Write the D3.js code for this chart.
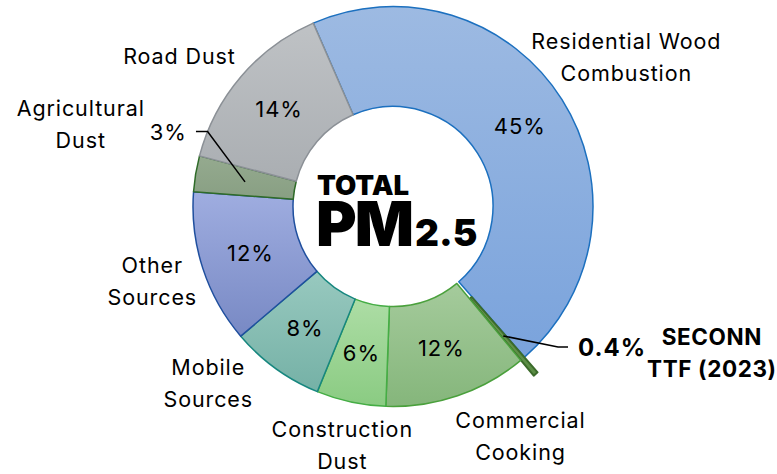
<!DOCTYPE html>
<html>
<head>
<meta charset="utf-8">
<script src="https://cdn.jsdelivr.net/npm/d3@7"></script>
<style>
  body { margin: 0; background: #fff; }
  text { font-family: Inter, "Noto Sans", sans-serif; fill: #000; }
</style>
</head>
<body>
<div id="my_dataviz"></div>
<script>
// ---------------- data ----------------
const categories = ["Residential Wood Combustion", "SECONN TTF (2023)", "Commercial Cooking",
                    "Construction Dust", "Mobile Sources", "Other Sources", "Agricultural Dust", "Road Dust"];
const shares = [45.1, 0.4, 11.6, 5.6, 7.6, 12.4, 2.9, 14.4];   // percent of total PM2.5
const nameLines = [["Residential Wood", "Combustion"], ["SECONN", "TTF (2023)"], ["Commercial", "Cooking"],
                   ["Construction", "Dust"], ["Mobile", "Sources"], ["Other", "Sources"],
                   ["Agricultural", "Dust"], ["Road Dust"]];
const centerTitle = ["TOTAL", "PM", "2.5"];

// ---------------- styles ----------------
const fillTop    = ["#9dbae2", "#6b9c52", "#a5cb9c", "#addda5", "#98c9bf", "#9fade0", "#95aa8f", "#bfc2c5"];
const fillBottom = ["#7aa3dc", "#5a8c44", "#85b67b", "#8acb82", "#75b1a6", "#7889c4", "#889f83", "#aaaeb2"];
const strokes    = ["#1c70bf", "#3c6b2b", "#4aa03c", "#45ad45", "#17877f", "#1f4f9e", "#2e6b28", "#8b9096"];

// ---------------- layout ----------------
const width = 777, height = 474;
const cx = 393, cy = 206.5;
const outerR = 200, innerR = 100;
const startDeg = -23.5;
const explodeIdx = 1, explodeBy = 20;
// category names: [angle (deg, clockwise from 12 o'clock), distance from centre]
const nameSpots = [[57.4, 277], [114.7, 351], [151, 263], [192, 244],
                   [226.2, 256], [252.8, 252], [284.8, 323], [305.1, 261]];
const nameSize = 21.5, pctSize = 22, lineH = 32;

const rad = deg => deg * Math.PI / 180;
const polar = (a, r) => [Math.sin(a) * r, -Math.cos(a) * r];

const svg = d3.select("#my_dataviz").append("svg")
    .attr("width", width).attr("height", height);

const defs = svg.append("defs");
shares.forEach((v, i) => {
    const g = defs.append("linearGradient").attr("id", "grad" + i)
        .attr("x1", 0).attr("y1", 0).attr("x2", 0).attr("y2", 1);
    g.append("stop").attr("offset", "0%").attr("stop-color", fillTop[i]);
    g.append("stop").attr("offset", "100%").attr("stop-color", fillBottom[i]);
});

const pie = d3.pie().sort(null).value(d => d)
    .startAngle(rad(startDeg)).endAngle(rad(startDeg) + 2 * Math.PI);
const arcs = pie(shares);
const arc = d3.arc().innerRadius(innerR).outerRadius(outerR);

const chart = svg.append("g").attr("transform", `translate(${cx},${cy})`);

const midAngle = d => (d.startAngle + d.endAngle) / 2;
const shift = (d, i) => i === explodeIdx ? polar(midAngle(d), explodeBy) : [0, 0];

// slices
chart.selectAll("path.slice")
    .data(arcs)
    .join("path")
    .attr("class", "slice")
    .attr("d", arc)
    .attr("transform", (d, i) => `translate(${shift(d, i)})`)
    .attr("fill", (d, i) => `url(#grad${i})`)
    .attr("stroke", (d, i) => strokes[i])
    .attr("stroke-width", (d, i) => i === explodeIdx ? 2 : 1.5)
    .attr("stroke-linejoin", "round");

const fmtPct = v => v < 1 ? d3.format(".1f")(v) + "%" : d3.format(".0f")(v) + "%";

// percent labels inside the ring
const inside = arcs.filter((d, i) => i !== explodeIdx && i !== 6);
chart.selectAll("text.pct")
    .data(inside)
    .join("text")
    .attr("class", "pct")
    .attr("transform", d => `translate(${arc.centroid(d)})`)
    .attr("text-anchor", "middle")
    .attr("dy", pctSize * 0.36)
    .style("font-size", pctSize + "px")
    .style("letter-spacing", "1px")
    .text(d => fmtPct(d.value));

// percent labels with leader lines (agricultural dust, SECONN sliver)
const leaders = [
    { i: 6, elbow: [292, 200], run: -11.6, anchor: "end", gap: 9, size: pctSize, weight: 400 },
    { i: 1, elbow: [130.4, 216.7], run: 10, anchor: "start", gap: 10, size: 24, weight: 700 }
];
leaders.forEach(L => {
    const d = arcs[L.i];
    const s = shift(d, L.i);
    const c = arc.centroid(d);
    const p0 = [c[0] + s[0], c[1] + s[1]];
    const p1 = polar(rad(L.elbow[0]), L.elbow[1]);
    const p2 = [p1[0] + L.run, p1[1]];
    chart.append("path")
        .attr("d", d3.line()([p0, p1, p2]))
        .attr("fill", "none").attr("stroke", "#000").attr("stroke-width", 1.5);
    chart.append("text")
        .attr("x", p2[0] + Math.sign(L.run) * L.gap)
        .attr("y", p2[1])
        .attr("dy", L.size * 0.36)
        .attr("text-anchor", L.anchor)
        .style("font-size", L.size + "px")
        .style("font-weight", L.weight)
        .style("letter-spacing", "1px")
        .text(fmtPct(d.value));
});

// category names around the ring
arcs.forEach((d, i) => {
    const [x, y] = polar(rad(nameSpots[i][0]), nameSpots[i][1]);
    const lines = nameLines[i];
    const bold = i === explodeIdx;
    const t = chart.append("text")
        .attr("text-anchor", "middle")
        .style("font-size", (bold ? 22.5 : nameSize) + "px")
        .style("font-weight", bold ? 700 : 400)
        .style("letter-spacing", bold ? "0.6px" : "0.9px");
    lines.forEach((ln, k) => {
        t.append("tspan")
            .attr("x", x)
            .attr("y", y + (k - (lines.length - 1) / 2) * lineH + nameSize * 0.36)
            .text(ln);
    });
});

// centre title
const title = chart.append("g").style("font-weight", 900);
title.append("text").attr("x", -76).attr("y", -12)
    .style("font-size", "27.5px").text(centerTitle[0]);
title.append("text").attr("x", -77).attr("y", 39.5)
    .style("font-size", "62px").style("letter-spacing", "-2px").text(centerTitle[1]);
title.append("text").attr("x", 22).attr("y", 39.5)
    .style("font-size", "37px").text(centerTitle[2]);
</script>
</body>
</html>
